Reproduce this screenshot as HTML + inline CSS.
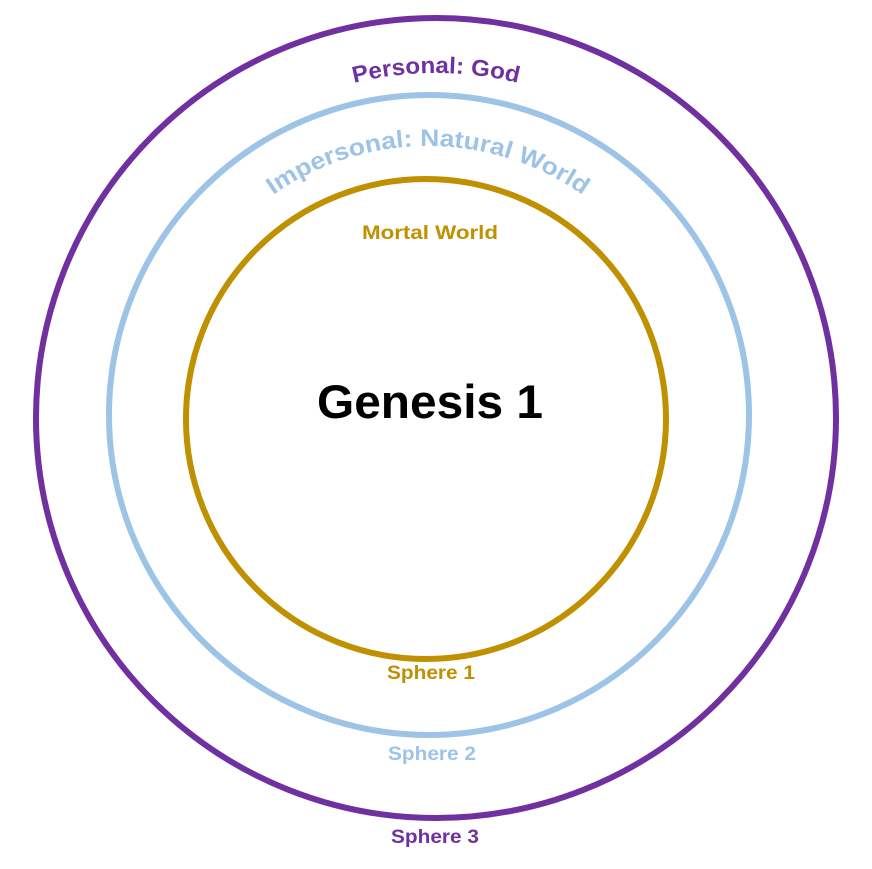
<!DOCTYPE html>
<html><head><style>html,body{margin:0;padding:0;background:#fff;}svg{display:block}</style></head>
<body>
<svg width="872" height="869" viewBox="0 0 872 869" xmlns="http://www.w3.org/2000/svg" font-family="'Liberation Sans', sans-serif" font-weight="bold">
<defs>
<path id="p1" d="M 91,418 A 345,345 0 0 1 781,418"/>
<path id="p2" d="M 159,415 A 269,269 0 0 1 697,415"/>
</defs>
<circle cx="436" cy="418" r="400" fill="none" stroke="#7030A0" stroke-width="6"/>
<circle cx="429" cy="415" r="320" fill="none" stroke="#9DC3E6" stroke-width="6"/>
<circle cx="426" cy="419" r="240" fill="none" stroke="#BF9000" stroke-width="6"/>
<text font-size="23" fill="#7030A0"><textPath href="#p1" startOffset="50%" text-anchor="middle" textLength="166" lengthAdjust="spacingAndGlyphs">Personal: God</textPath></text>
<text font-size="24" fill="#9DC3E6"><textPath href="#p2" startOffset="50%" text-anchor="middle" textLength="330" lengthAdjust="spacingAndGlyphs">Impersonal: Natural World</textPath></text>
<text x="430" y="239" font-size="19" fill="#BF9000" text-anchor="middle" textLength="136" lengthAdjust="spacingAndGlyphs">Mortal World</text>
<text x="430" y="418" font-size="47" fill="#000" text-anchor="middle" textLength="226" lengthAdjust="spacingAndGlyphs">Genesis 1</text>
<text x="431" y="679" font-size="19" fill="#BF9000" text-anchor="middle" textLength="88" lengthAdjust="spacingAndGlyphs">Sphere 1</text>
<text x="432" y="760" font-size="19" fill="#9DC3E6" text-anchor="middle" textLength="88" lengthAdjust="spacingAndGlyphs">Sphere 2</text>
<text x="435" y="843" font-size="19" fill="#7030A0" text-anchor="middle" textLength="88" lengthAdjust="spacingAndGlyphs">Sphere 3</text>
</svg>
</body></html>
